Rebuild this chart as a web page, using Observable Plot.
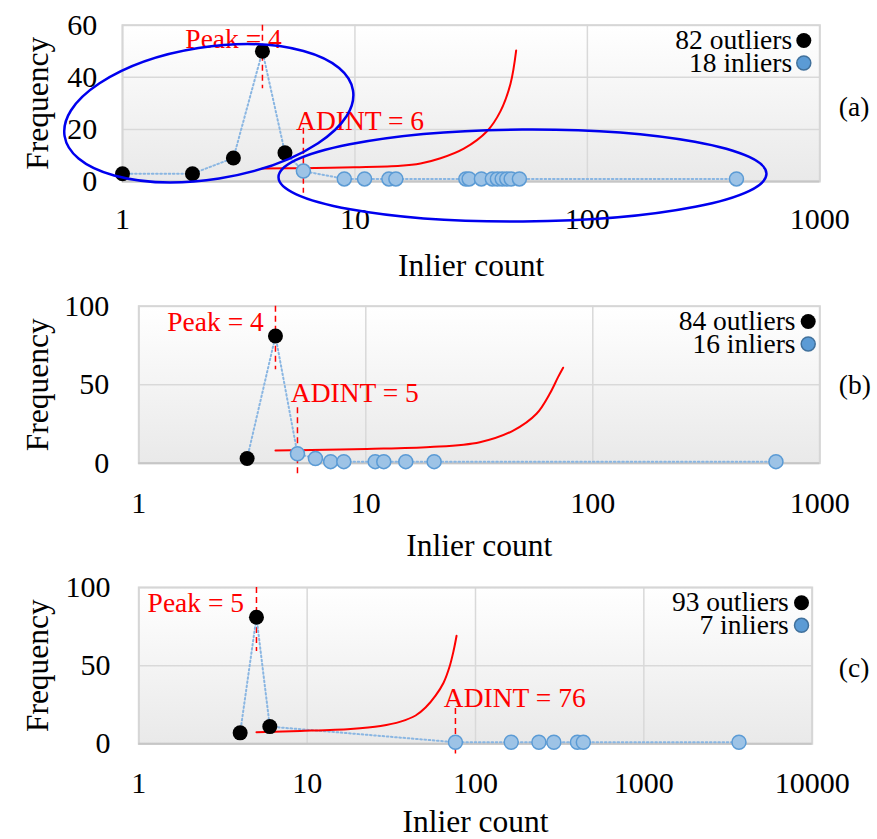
<!DOCTYPE html>
<html><head><meta charset="utf-8">
<script src="https://cdn.jsdelivr.net/npm/d3@7"></script>
<script src="https://cdn.jsdelivr.net/npm/@observablehq/plot@0.6"></script>
<style>
html,body{margin:0;padding:0;background:#fff;}
#chart svg{display:block;}
</style></head><body><div id="chart"></div>
<script>
// ---------- data ----------
const panelLabels = ["(a)", "(b)", "(c)"];
const xDomains = [[1, 1000], [1, 1000], [1, 10000]];
const xTicks = [[1, 10, 100, 1000], [1, 10, 100, 1000], [1, 10, 100, 1000, 10000]];
const yDomains = [[0, 60], [0, 100], [0, 100]];
const yTicks = [[0, 20, 40, 60], [0, 50, 100], [0, 50, 100]];
const outlierTotals = [82, 84, 93];
const inlierTotals = [18, 16, 7];
const peaks = [4, 4, 5];
const adints = [6, 5, 76];

const outlierCountsA = [1, 2, 3, 4, 5];
const outlierFreqA = [3, 3, 9, 50, 11];
const inlierCountsA = [6, 9, 11, 14, 15, 30, 31, 35, 39, 41, 43, 45, 47, 51, 438];
const inlierFreqA = [4, 1, 1, 1, 1, 1, 1, 1, 1, 1, 1, 1, 1, 1, 1];

const outlierCountsB = [3, 4];
const outlierFreqB = [3, 81];
const inlierCountsB = [5, 6, 7, 8, 11, 12, 15, 20, 641];
const inlierFreqB = [6, 3, 1, 1, 1, 1, 1, 1, 1];

const outlierCountsC = [4, 5, 6];
const outlierFreqC = [7, 81, 11];
const inlierCountsC = [76, 163, 238, 292, 403, 437, 3673];
const inlierFreqC = [1, 1, 1, 1, 1, 1, 1];

// red threshold curves
const curveXA = [4, 5.83, 9.96, 15.7, 19.15, 23.35, 29.4, 37.1, 42.3, 46.7, 49.4];
const curveYA = [5, 5.1, 5.45, 6.0, 6.9, 8.9, 12.6, 19.4, 27, 37.5, 50.3];
const curveXB = [4, 4.97, 10.1, 19.2, 31.8, 44.6, 56.5, 64.6, 70.3, 74];
const curveYB = [8.1, 8.3, 9.1, 10.3, 13.4, 20.8, 31.5, 44.2, 54.8, 60.8];
const curveXC = [5, 9.1, 18.1, 27.3, 35.9, 44.1, 50.5, 57.9, 64.6, 70.1, 74.1, 77.2];
const curveYC = [7.4, 8.2, 9.5, 11.4, 14.2, 18.1, 23.2, 30.8, 39.1, 49.3, 59.5, 69.1];

// extents of the dashed marker lines (frequency units)
const peakLineY = [[60, 35.6], [100, 59.5], [100, 59]];
const adintLineY = [[20.4, -4.5], [35.3, -6.8], [22.6, -6.5]];

// ellipse annotations in panel (a): centre in data units
const ellipseCentersX = [2.363, 52.85];
const ellipseCentersY = [26.0, 2.11];

// ---------- layout / styles ----------
const FONT = "'Liberation Serif', 'Times New Roman', serif";
const layouts = [
  {height: 285, ml: 122, mr: 57.7, mt: 24.7, mb: 104, xPad: 26, yPad: 25.3, titleDy: 94,
   peakDx: 19.4, peakDy: 22.3, adDx: -7.3, adDy: 104.6,
   legTextDx: -27.6, legDotDx: -16, labDx: 19, labDy: 12.2},
  {height: 280, ml: 138.3, mr: 57.7, mt: 20.7, mb: 102.3, xPad: 28, yPad: 29.5, titleDy: 92.5,
   peakDx: -11.7, peakDy: 25, adDx: -6.7, adDy: 95.3,
   legTextDx: -24.3, legDotDx: -11.6, labDx: 19, labDy: 9.3},
  {height: 274, ml: 138.3, mr: 65.3, mt: 22, mb: 95.7, xPad: 27.4, yPad: 28.3, titleDy: 88.5,
   peakDx: -12.4, peakDy: 24.7, adDx: -11.6, adDy: 119.7,
   legTextDx: -23.4, legDotDx: -10.7, labDx: 26.6, labDy: 11.8}
];
const ellipseGeom = [
  {rx: 146, ry: 66, angle: -9},
  {rx: 244, ry: 46, angle: -0.4}
];

const zip = (xs, ys) => xs.map((x, i) => ({x, y: ys[i]}));
const panels = [
  {out: zip(outlierCountsA, outlierFreqA), inl: zip(inlierCountsA, inlierFreqA), curve: zip(curveXA, curveYA)},
  {out: zip(outlierCountsB, outlierFreqB), inl: zip(inlierCountsB, inlierFreqB), curve: zip(curveXB, curveYB)},
  {out: zip(outlierCountsC, outlierFreqC), inl: zip(inlierCountsC, inlierFreqC), curve: zip(curveXC, curveYC)}
];

const container = document.getElementById("chart");

panels.forEach((p, i) => {
  const L = layouts[i];
  const all = [...p.out, ...p.inl].sort((a, b) => a.x - b.x);
  const gid = "bg" + i;
  const svg = Plot.plot({
    width: 877, height: L.height,
    marginLeft: L.ml, marginRight: L.mr, marginTop: L.mt, marginBottom: L.mb,
    style: {fontFamily: FONT, fontSize: "30px", background: "white", overflow: "visible", color: "black"},
    x: {type: "log", domain: xDomains[i]},
    y: {domain: yDomains[i]},
    marks: [
      Plot.frame({fill: `url(#${gid})`, stroke: "none"}),
      Plot.gridX(xTicks[i], {stroke: "#d9d9d9", strokeOpacity: 1, strokeWidth: 1.5}),
      Plot.gridY(yTicks[i], {stroke: "#d9d9d9", strokeOpacity: 1, strokeWidth: 1.5}),
      Plot.frame({stroke: "#d6d6d6", strokeWidth: 2}),
      Plot.ruleY([0], {stroke: "#c6c6c6", strokeWidth: 2}),
      Plot.axisX(xTicks[i], {tickSize: 0, tickPadding: L.xPad, tickFormat: d => String(d), label: null, fontSize: 30}),
      Plot.axisY(yTicks[i], {tickSize: 0, tickPadding: L.yPad, label: null, fontSize: 30}),
      Plot.text(["Inlier count"], {frameAnchor: "bottom", dy: L.titleDy, textAnchor: "middle", lineAnchor: "bottom", fontSize: 31.5}),
      Plot.text(["Frequency"], {frameAnchor: "left", dx: -(L.ml - 47), rotate: -90, textAnchor: "middle", lineAnchor: "bottom", fontSize: 31.5}),
      Plot.text([panelLabels[i]], {frameAnchor: "right", dx: L.labDx, dy: L.labDy, textAnchor: "start", lineAnchor: "bottom", fontSize: 27.5}),
      // dashed markers
      Plot.ruleX([peaks[i]], {x: d => d, y1: peakLineY[i][0], y2: peakLineY[i][1], stroke: "#ff0000", strokeWidth: 1.5, strokeDasharray: "6,4"}),
      Plot.ruleX([adints[i]], {x: d => d, y1: adintLineY[i][0], y2: adintLineY[i][1], stroke: "#ff0000", strokeWidth: 1.5, strokeDasharray: "6,4"}),
      Plot.text([peaks[i]], {x: d => d, frameAnchor: "top", dx: L.peakDx, dy: L.peakDy, text: d => `Peak = ${d}`, textAnchor: "end", lineAnchor: "bottom", fill: "#ff0000", fontSize: 27.5}),
      Plot.text([adints[i]], {x: d => d, frameAnchor: "top", dx: L.adDx, dy: L.adDy, text: d => `ADINT = ${d}`, textAnchor: "start", lineAnchor: "bottom", fill: "#ff0000", fontSize: 27.5}),
      // series
      Plot.line(all, {x: "x", y: "y", stroke: "#8ab6e2", strokeWidth: 2, strokeDasharray: "1.6,2.6"}),
      Plot.line(p.curve, {x: "x", y: "y", stroke: "#ff0000", strokeWidth: 2, curve: "catmull-rom"}),
      Plot.dot(p.out, {x: "x", y: "y", r: 7.5, fill: "black"}),
      Plot.dot(p.inl, {x: "x", y: "y", r: 7, fill: "#9dc3e6", stroke: "#5b9bd5", strokeWidth: 1.5}),
      // legend
      Plot.text([`${outlierTotals[i]} outliers`], {frameAnchor: "top-right", dx: L.legTextDx, dy: 23.3, textAnchor: "end", lineAnchor: "bottom", fontSize: 27.5}),
      Plot.text([`${inlierTotals[i]} inliers`], {frameAnchor: "top-right", dx: L.legTextDx, dy: 46.3, textAnchor: "end", lineAnchor: "bottom", fontSize: 27.5}),
      Plot.dot([0], {frameAnchor: "top-right", dx: L.legDotDx, dy: 15.3, r: 7.5, fill: "black"}),
      Plot.dot([0], {frameAnchor: "top-right", dx: L.legDotDx, dy: 37.8, r: 7, fill: "#5b9bd5", stroke: "#41719c", strokeWidth: 1.5})
    ]
  });

  const sel = d3.select(svg);
  const defs = sel.insert("defs", ":first-child");
  const g = defs.append("linearGradient").attr("id", gid).attr("x1", 0).attr("y1", 0).attr("x2", 0).attr("y2", 1);
  g.append("stop").attr("offset", "0%").attr("stop-color", "#ffffff");
  g.append("stop").attr("offset", "100%").attr("stop-color", "#e9e9e9");

  if (i === 0) {
    const xs = svg.scale("x"), ys = svg.scale("y");
    ellipseCentersX.forEach((cx, k) => {
      const E = ellipseGeom[k];
      sel.append("ellipse")
        .attr("transform", `translate(${xs.apply(cx)},${ys.apply(ellipseCentersY[k])}) rotate(${E.angle})`)
        .attr("rx", E.rx).attr("ry", E.ry)
        .attr("fill", "none").attr("stroke", "#0000ee").attr("stroke-width", 2.5);
    });
  }
  container.appendChild(svg);
});
</script>
</body></html>
